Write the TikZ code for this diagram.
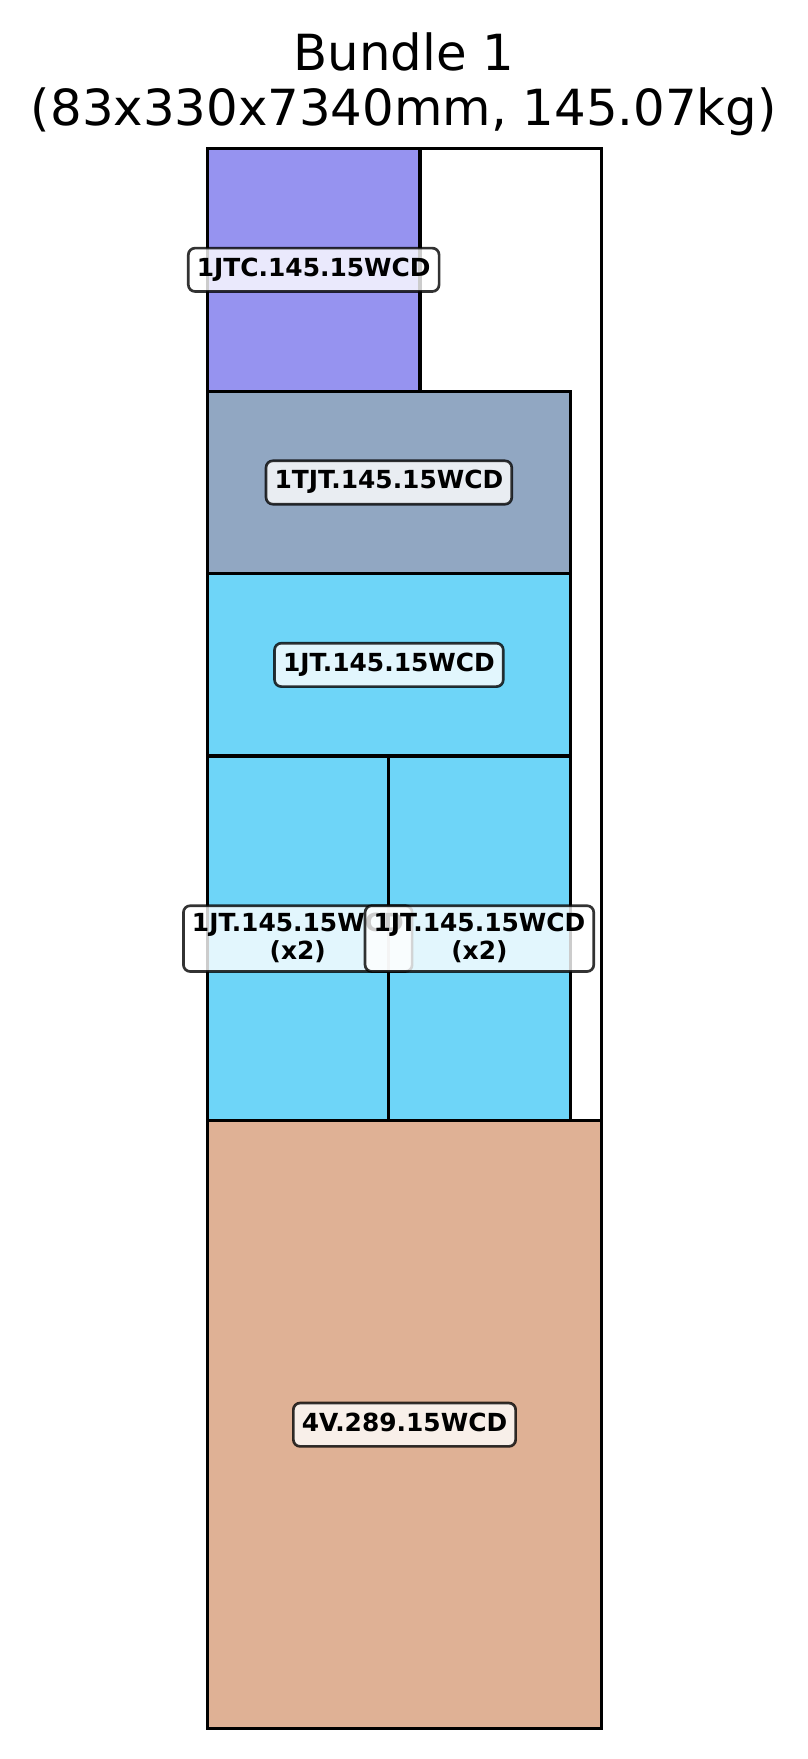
\documentclass[tikz,border=0pt]{standalone}
\usepackage{fontspec}
\setmainfont{DejaVu Sans}
\definecolor{cPurple}{HTML}{9693F0}
\definecolor{cSlate}{HTML}{91A7C2}
\definecolor{cCyan}{HTML}{6ED5F8}
\definecolor{cTan}{HTML}{DFB195}
\tikzset{
  piece/.style={draw=black, line width=0.85pt},
  outline/.style={draw=black, line width=0.75pt},
  lblbase/.style={draw=black, draw opacity=0.8, fill=white, fill opacity=0.8, text opacity=1,
    line width=0.75pt, rounded corners=1.9pt, inner xsep=2.4pt, inner ysep=1.8pt,
    align=center, font=\bfseries\fontsize{7}{7.9}\selectfont},
  lbl/.style={lblbase, text height=5.3pt, text depth=1.7pt, inner ysep=2.6pt},
  ttl/.style={font=\fontsize{14}{15.5}\selectfont, anchor=base, inner sep=0pt}
}
\newcommand{\tstrut}{\rule{0pt}{0.76em}}
\newcommand{\bstrut}{\rule[-0.24em]{0pt}{0.24em}}
\begin{document}
\begin{tikzpicture}[x=0.28125pt, y=-0.28125pt]
\useasboundingbox (0,0) rectangle (808,1759);
% title
\node[ttl] (title1) at (404,70) {Bundle 1};
\node[ttl] (title2) at (404,125) {(83x330x7340mm, 145.07kg)};
% bundle outline
\draw[outline] (207.3,148.2) rectangle (601.8,1728.8);
% pieces
\draw[piece, fill=cPurple] (207.3,148.2) rectangle (420,391.3);
\draw[piece, fill=cSlate] (207.3,391.3) rectangle (570.5,573.7);
\draw[piece, fill=cCyan] (207.3,573.7) rectangle (570.5,756);
\draw[piece, fill=cCyan] (207.3,756) rectangle (388.3,1120.6);
\draw[piece, fill=cCyan] (388.3,756) rectangle (570.5,1120.6);
\draw[piece, fill=cTan] (207.3,1120.6) rectangle (601.8,1728.8);
% labels
\node[lbl] (l1) at (313.7,269.8) {1JTC.145.15WCD};
\node[lbl] (l2) at (388.9,482.5) {1TJT.145.15WCD};
\node[lbl] (l3) at (388.9,664.9) {1JT.145.15WCD};
\node[lblbase] (l4) at (297.8,938.6) {\tstrut 1JT.145.15WCD\\(x2)\bstrut};
\node[lblbase] (l5) at (479.4,938.6) {\tstrut 1JT.145.15WCD\\(x2)\bstrut};
\node[lbl] (l6) at (404.5,1424.7) {4V.289.15WCD};
\end{tikzpicture}
\end{document}
